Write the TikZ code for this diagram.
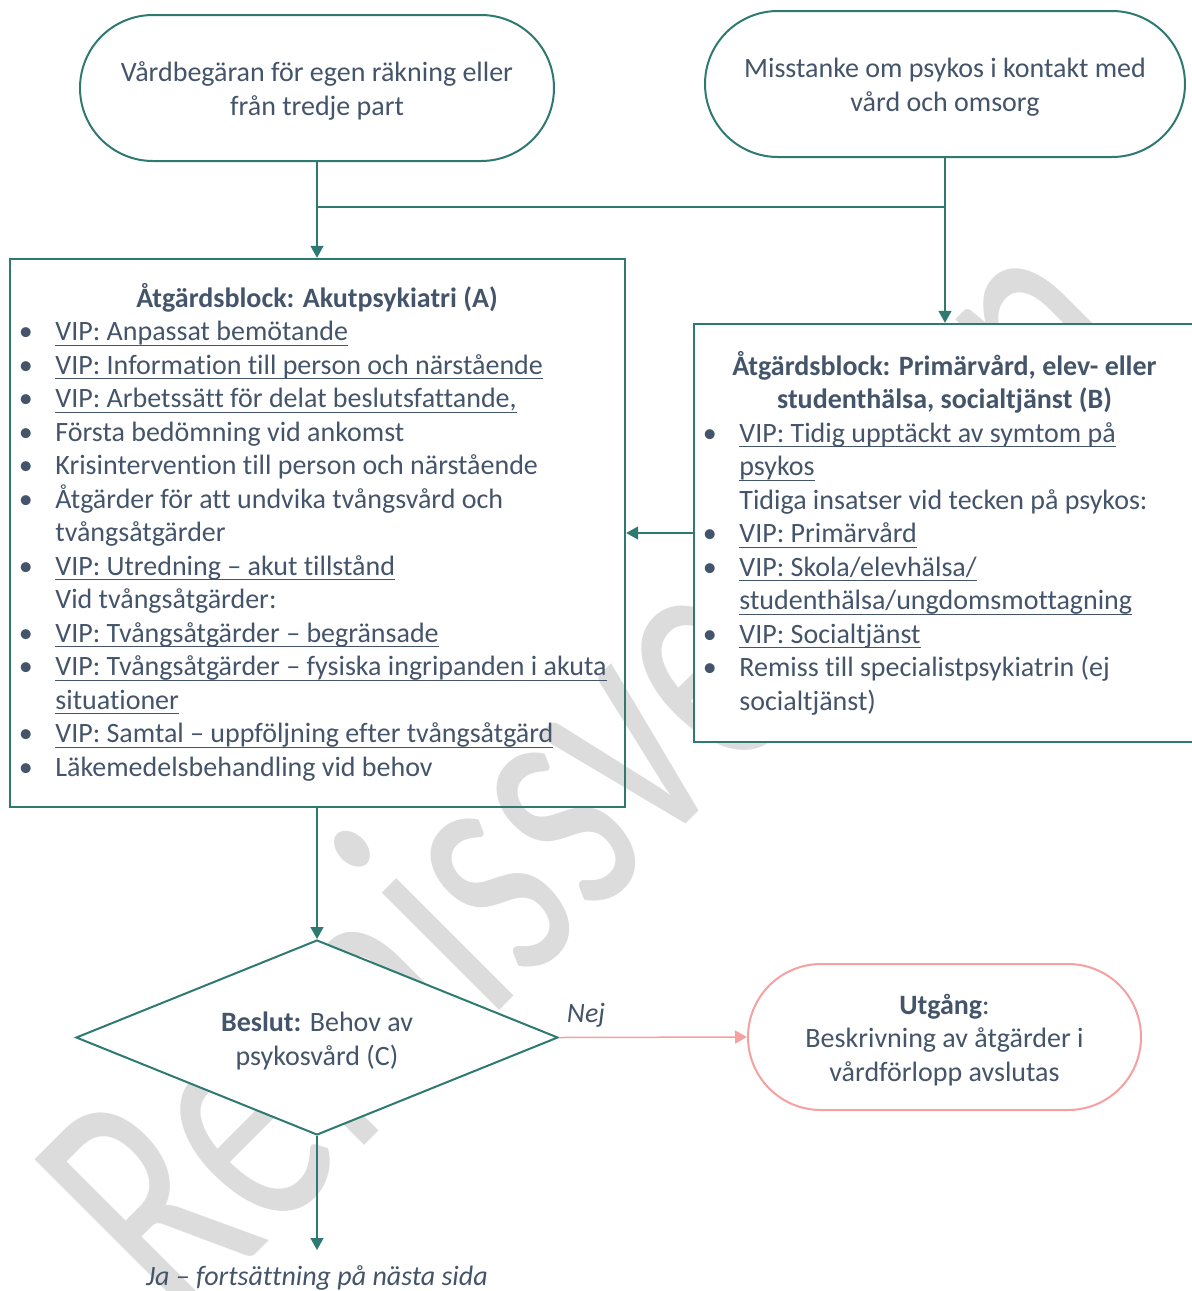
\documentclass[tikz,border=0pt]{standalone}
\usepackage{fontspec}
\setmainfont{Carlito}[Ligatures={NoCommon}]
\usetikzlibrary{arrows.meta,shapes.geometric}

\definecolor{flowteal}{RGB}{46,122,113}
\definecolor{exitpink}{RGB}{247,160,160}
\definecolor{inktext}{RGB}{68,84,106}
\definecolor{wmgray}{RGB}{220,220,220}

% underlined link text
\newsavebox\linkbox
\newcommand\vip[1]{\sbox\linkbox{#1}\rlap{\rule[-2.6pt]{\wd\linkbox}{0.6pt}}\usebox\linkbox}

\newcommand\bodyfont{\fontsize{14pt}{16.75pt}\selectfont}
\newcommand\bul{\makebox[18.25pt][l]{•}}
\newcommand\nob{\hspace*{18.25pt}}

\tikzset{
  txt/.style={text=inktext, font=\bodyfont, inner sep=0pt},
  term/.style={draw=flowteal, line width=1pt, fill=white, rounded corners=36.5pt,
               minimum height=73pt, text=inktext, font=\bodyfont, align=center},
  blockbox/.style={draw=flowteal, line width=1.2pt, inner sep=0pt},
  decision/.style={diamond, shape aspect=2.47, draw=flowteal, line width=1pt, fill=white, inner sep=0pt,
               minimum width=241pt, minimum height=97.5pt, text=inktext, font=\bodyfont, align=center},
  flowline/.style={draw=flowteal, line width=0.75pt},
  conn/.style={flowline, -{Triangle[length=6pt,width=6.5pt]}},
  exitconn/.style={draw=exitpink, line width=0.75pt, -{Triangle[length=6pt,width=6.5pt]}},
  wmark/.style={anchor=base west, inner sep=0pt, text=wmgray, rotate=45, yscale=1.46,
               font=\fontsize{119pt}{119pt}\selectfont}
}

\begin{document}
\begin{tikzpicture}[x=0.5pt,y=-0.5pt]
\useasboundingbox (0,0) rectangle (1192,1291);

% watermark behind the chart
\node[wmark] (wm) at (180,1330) {Remissversion};

% action blocks
\node[blockbox, minimum width=307.5pt, minimum height=274pt] (A) at (317.5,533) {};
\node[blockbox, fill=white, minimum width=250pt, minimum height=209pt] (B) at (944,533) {};

\node[txt, font=\bodyfont\bfseries, anchor=base] (Atitle) at (317,307) {Åtgärdsblock: Akutpsykiatri (A)};
\node[txt, anchor=base west] (Alist) at (18.5,340.5) {\begin{tabular}[t]{@{}l@{}}
\bul\vip{VIP: Anpassat bemötande}\\
\bul\vip{VIP: Information till person och närstående}\\
\bul\vip{VIP: Arbetssätt för delat beslutsfattande,}\\
\bul Första bedömning vid ankomst\\
\bul Krisintervention till person och närstående\\
\bul Åtgärder för att undvika tvångsvård och\\
\nob tvångsåtgärder\\
\bul\vip{VIP: Utredning – akut tillstånd}\\
\nob Vid tvångsåtgärder:\\
\bul\vip{VIP: Tvångsåtgärder – begränsade}\\
\bul\vip{VIP: Tvångsåtgärder – fysiska ingripanden i akuta}\\
\nob\vip{situationer}\\
\bul\vip{VIP: Samtal – uppföljning efter tvångsåtgärd}\\
\bul Läkemedelsbehandling vid behov
\end{tabular}};

\node[txt, font=\bodyfont\bfseries, anchor=base] (Btitle) at (944.5,375) {\begin{tabular}[t]{@{}c@{}}
Åtgärdsblock: Primärvård, elev- eller\\
studenthälsa, socialtjänst (B)
\end{tabular}};
\node[txt, anchor=base west] (Blist) at (702.5,442) {\begin{tabular}[t]{@{}l@{}}
\bul\vip{VIP: Tidig upptäckt av symtom på}\\
\nob\vip{psykos}\\
\nob Tidiga insatser vid tecken på psykos:\\
\bul\vip{VIP: Primärvård}\\
\bul\vip{VIP: Skola/elevhälsa/}\\
\nob\vip{studenthälsa/ungdomsmottagning}\\
\bul\vip{VIP: Socialtjänst}\\
\bul Remiss till specialistpsykiatrin (ej\\
\nob socialtjänst)
\end{tabular}};

% decision and terminators
\node[decision] (D) at (317,1037.5) {};
\node[txt, align=center] (Dtext) at (317,1041) {\textbf{Beslut:} Behov av\\psykosvård (C)};
\node[term, minimum width=237pt] (T1) at (317,88) {};
\node[txt, align=center] (T1text) at (317,91) {Vårdbegäran för egen räkning eller\\från tredje part};
\node[term, minimum width=240pt] (T2) at (945,84) {};
\node[txt, align=center] (T2text) at (945,87) {Misstanke om psykos i kontakt med\\vård och omsorg};
\node[term, draw=exitpink, minimum width=196.5pt] (U) at (944.5,1037) {};
\node[txt, align=center] (Utext) at (944.5,1040) {\textbf{Utgång}:\\Beskrivning av åtgärder i\\vårdförlopp avslutas};

% labels
\node[txt, font=\bodyfont\itshape, anchor=base] (nej) at (586,1022) {Nej};
\node[txt, font=\bodyfont\itshape, anchor=base] (ja) at (317,1285) {Ja – fortsättning på nästa sida};

% connectors
\coordinate (split) at (317,207);
\coordinate (jaend) at (317,1250);
\draw[flowline] (split) -- (split -| T2.south);
\draw[conn] (T1.south) -- (T1.south |- A.north);
\draw[conn] (T2.south) -- (T2.south |- B.north);
\draw[conn] (B.west) -- (A.east);
\draw[conn] (A.south -| D.north) -- (D.north);
\draw[exitconn] (D.east) -- (U.west);
\draw[conn] (D.south) -- (jaend);
\end{tikzpicture}
\end{document}
